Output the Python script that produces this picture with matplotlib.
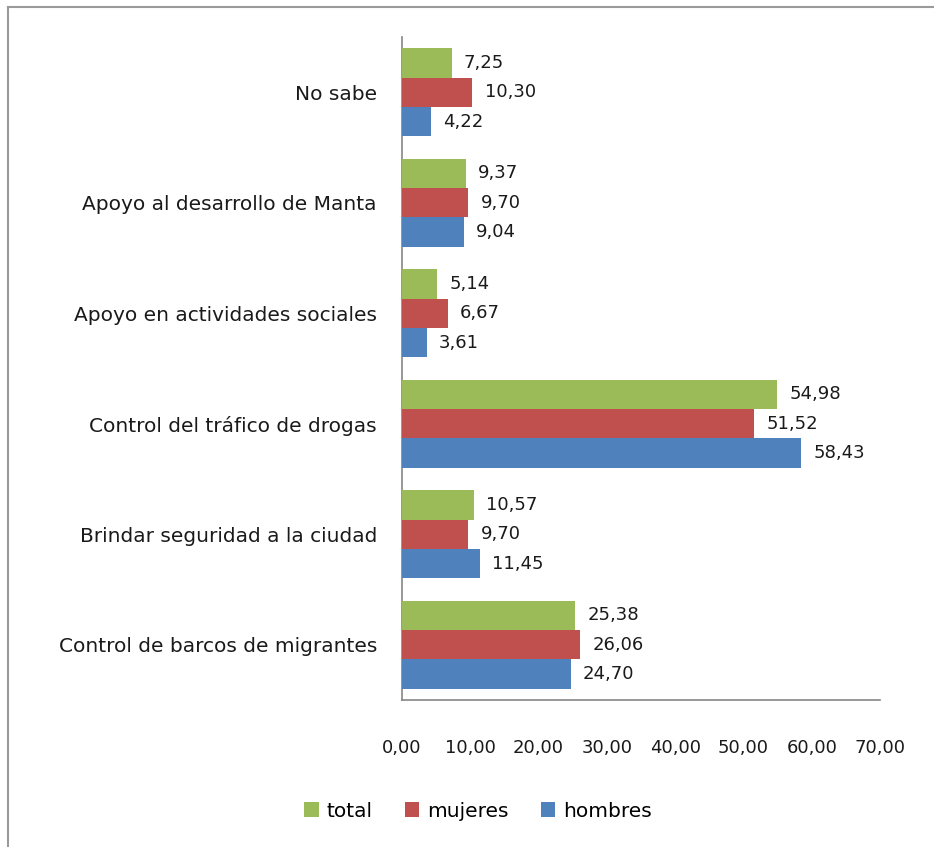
import numpy as np
import matplotlib.pyplot as plt
from matplotlib.lines import Line2D

categorias = ['Control de barcos de migrantes', 'Brindar seguridad a la ciudad',
              'Control del tráfico de drogas', 'Apoyo en actividades sociales',
              'Apoyo al desarrollo de Manta', 'No sabe']
hombres = [24.70, 11.45, 58.43, 3.61, 9.04, 4.22]
mujeres = [26.06, 9.70, 51.52, 6.67, 9.70, 10.30]
total = [25.38, 10.57, 54.98, 5.14, 9.37, 7.25]
ticks_x = [0, 10, 20, 30, 40, 50, 60, 70]

def fmt(v):
    return f'{v:.2f}'.replace('.', ',')

plt.rcParams['font.family'] = 'DejaVu Sans'

fig = plt.figure(figsize=(9.34, 8.47), dpi=100)
W, H = 934, 847
ax = fig.add_axes([402 / W, 1 - 700 / H, (880 - 402) / W, (700 - 37) / H])

y = np.arange(len(categorias))
h = 0.265
series = [(hombres, '#4F81BD', 'hombres', -h),
          (mujeres, '#C0504D', 'mujeres', 0),
          (total, '#9BBB59', 'total', h)]
for vals, col, lab, off in series:
    ax.barh(y + off, vals, height=h, color=col, label=lab, zorder=3)
    for yi, v in zip(y, vals):
        ax.text(v + 1.8, yi + off, fmt(v), va='center', ha='left', fontsize=13, color='#1a1a1a')

ax.set_xlim(0, 70)
ax.set_ylim(-0.5, len(categorias) - 0.5)
ax.set_yticks(y)
ax.set_yticklabels(categorias, fontsize=14.5, color='#1a1a1a')
ax.set_xticks(ticks_x)
ax.set_xticklabels([fmt(t) for t in ticks_x], fontsize=13, color='#1a1a1a')
ax.tick_params(axis='y', length=0, pad=18)
ax.tick_params(axis='x', length=0, pad=28)
for s in ['top', 'right']:
    ax.spines[s].set_visible(False)
for s in ['left', 'bottom']:
    ax.spines[s].set_color('#868686')
    ax.spines[s].set_linewidth(1.2)

handles, labels = ax.get_legend_handles_labels()
fig.legend(handles[::-1], labels[::-1], loc='center', bbox_to_anchor=(478 / W, 1 - 811 / H),
           ncol=3, frameon=False, fontsize=14.5, handlelength=0.7, handleheight=0.7,
           columnspacing=1.6, handletextpad=0.4)

# borde exterior del grafico
fig.add_artist(Line2D([8 / W, 1], [1 - 7 / H, 1 - 7 / H], color='#9a9a9a', lw=1.5))
fig.add_artist(Line2D([8 / W, 8 / W], [0, 1 - 7 / H], color='#9a9a9a', lw=1.5))

fig.savefig('out.png', dpi=100)
